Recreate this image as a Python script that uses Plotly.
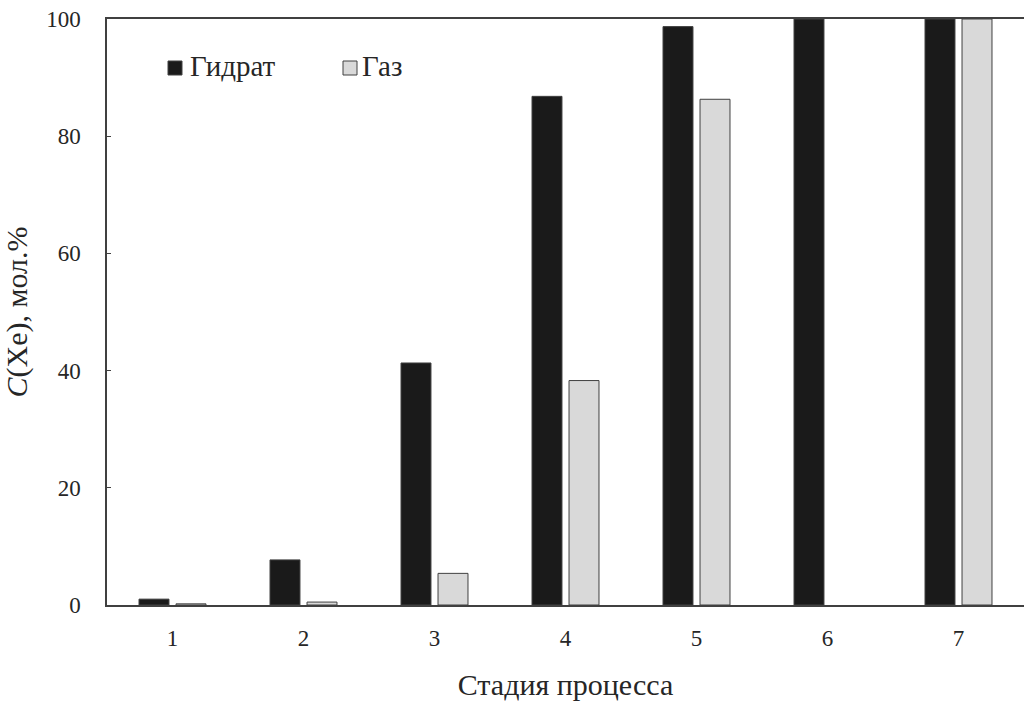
import plotly.graph_objects as go

# Process stages and xenon content (mol.%) in the hydrate and gas phases
stages = [1, 2, 3, 4, 5, 6, 7]
stage_labels = ["1", "2", "3", "4", "5", "6", "7"]
hydrate = [1.0, 7.7, 41.3, 86.8, 98.7, 100.0, 100.0]
gas = [0.2, 0.5, 5.4, 38.3, 86.3, None, 100.0]
y_ticks = [0, 20, 40, 60, 80, 100]
series_names = ["Гидрат", "Газ"]
series_colors = ["#1a1a1a", "#d9d9d9"]

FONT = "Liberation Serif"
TXT = "#262626"
EDGE = "#404040"

# plot-area geometry in pixels (used for the hand-placed legend)
W, H = 1024, 701
ML, MR, MT, MB = 107, 0, 19, 96
PW, PH = W - ML - MR, H - MT - MB


def px_x(x):
    return (x - ML) / PW


def px_y(y):
    return (H - MB - y) / PH


fig = go.Figure()
for name, vals, col in zip(series_names, [hydrate, gas], series_colors):
    fig.add_trace(go.Bar(
        x=stages, y=vals, name=name,
        marker=dict(color=col, line=dict(color=EDGE, width=1)),
    ))

fig.update_layout(
    width=W, height=H,
    margin=dict(l=ML, r=MR, t=MT, b=MB),
    paper_bgcolor="white", plot_bgcolor="white",
    barmode="group", bargap=0.435, bargroupgap=0.19,
    font=dict(family=FONT, size=23, color=TXT),
    showlegend=False,
)

# legend: small square swatch followed by the series name
legend_items = [(168, 190), (343, 362)]
for (sx, tx), name, col in zip(legend_items, series_names, series_colors):
    fig.add_shape(
        type="rect", xref="paper", yref="paper",
        x0=px_x(sx), x1=px_x(sx + 14), y0=px_y(75), y1=px_y(61),
        fillcolor=col, line=dict(color=EDGE, width=1),
    )
    fig.add_annotation(
        xref="paper", yref="paper", x=px_x(tx - 2), y=px_y(66),
        xanchor="left", yanchor="middle", showarrow=False, text=name,
        font=dict(family=FONT, size=29, color=TXT),
    )

fig.update_xaxes(
    range=[0.5, 7.5], tickmode="array", tickvals=stages, ticktext=stage_labels,
    showline=True, linecolor=EDGE, linewidth=1.5, mirror=True,
    ticks="", showgrid=False, zeroline=False, ticklabelstandoff=12,
    tickfont=dict(family=FONT, size=23, color=TXT),
    title=dict(text="Стадия процесса", standoff=24,
               font=dict(family=FONT, size=30, color=TXT)),
)
fig.update_yaxes(
    range=[0, 100], tickmode="array", tickvals=y_ticks,
    showline=True, linecolor=EDGE, linewidth=1.5, mirror=False,
    ticks="inside", ticklen=4, tickcolor=EDGE, tickwidth=1,
    showgrid=False, zeroline=False, ticklabelstandoff=20,
    tickfont=dict(family=FONT, size=23, color=TXT),
    title=dict(text="<i>C</i>(Xe), мол.%", standoff=12,
               font=dict(family=FONT, size=30, color=TXT)),
)

fig.write_html("out.html")
